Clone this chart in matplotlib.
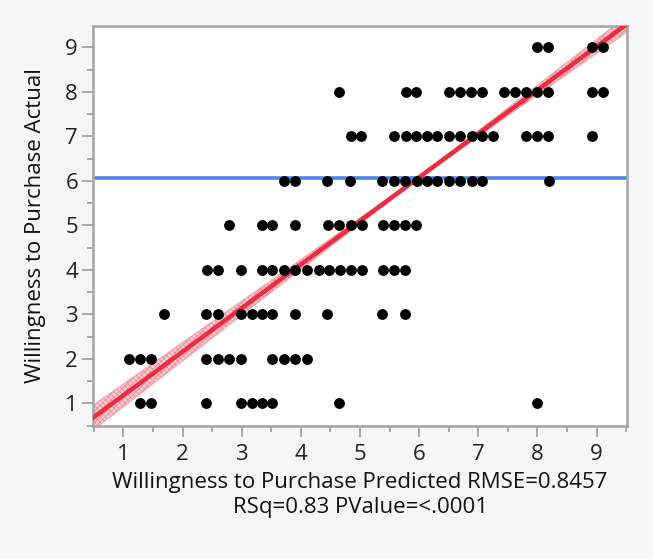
import numpy as np
import matplotlib
matplotlib.use("Agg")
import matplotlib.pyplot as plt

plt.rcParams['font.family'] = ['Open Sans', 'DejaVu Sans']
plt.rcParams['hatch.linewidth'] = 0.6

# Predicted values (x) for each actual level (y)
pred_actual_9 = [8.00, 8.18, 8.93, 9.11]
pred_actual_8 = [4.65, 5.77, 5.95, 6.51, 6.69, 6.88, 7.06, 7.43, 7.62, 7.80, 8.00, 8.18, 8.93, 9.11]
pred_actual_7 = [4.84, 5.02, 5.58, 5.77, 5.95, 6.13, 6.30, 6.51, 6.69, 6.89, 7.07, 7.25, 7.80, 8.00, 8.18, 8.93]
pred_actual_6 = [3.72, 3.90, 4.45, 4.83, 5.38, 5.58, 5.76, 5.96, 6.14, 6.30, 6.51, 6.69, 6.89, 7.07, 8.20]
pred_actual_5 = [2.79, 3.34, 3.52, 3.90, 4.46, 4.65, 4.84, 5.03, 5.39, 5.58, 5.76, 5.95]
pred_actual_4 = [2.41, 2.60, 2.98, 3.34, 3.52, 3.72, 3.90, 4.10, 4.30, 4.48, 4.66, 4.84, 5.03, 5.39, 5.58, 5.76]
pred_actual_3 = [1.68, 2.40, 2.60, 2.98, 3.17, 3.34, 3.52, 3.90, 4.45, 5.38, 5.76]
pred_actual_2 = [1.10, 1.28, 1.47, 2.40, 2.60, 2.79, 2.98, 3.52, 3.72, 3.90, 4.10]
pred_actual_1 = [1.28, 1.47, 2.40, 2.98, 3.17, 3.34, 3.52, 4.65, 8.00]

actual_levels = [9, 8, 7, 6, 5, 4, 3, 2, 1]
pred_by_level = [pred_actual_9, pred_actual_8, pred_actual_7, pred_actual_6, pred_actual_5,
                 pred_actual_4, pred_actual_3, pred_actual_2, pred_actual_1]

mean_actual = 6.07
fit_slope = 0.98
fit_intercept = 0.2
band_center_x = 6.0
band_min_halfwidth = 0.04
band_growth = 0.05

tick_values = [1, 2, 3, 4, 5, 6, 7, 8, 9]
xlabel_text = "Willingness to Purchase Predicted RMSE=0.8457\nRSq=0.83 PValue=<.0001"
ylabel_text = "Willingness to Purchase Actual"

W, H = 653, 559
fig = plt.figure(figsize=(W / 100, H / 100), dpi=100, facecolor='#f6f6f6')
ax = fig.add_axes([93.3 / W, 1 - 426 / H, (626.7 - 93.3) / W, (426 - 26) / H])
ax.set_facecolor('white')

xlim = (0.49, 9.51)
ylim = (0.49, 9.48)

# confidence band and fit line
xs = np.linspace(xlim[0] - 0.1, xlim[1] + 0.1, 300)
fit = fit_intercept + fit_slope * xs
hw = np.sqrt(band_min_halfwidth ** 2 + (band_growth * (xs - band_center_x)) ** 2)
ax.fill_between(xs, fit - hw, fit + hw, facecolor='#fbd0d4', edgecolor='#f08a95',
                hatch='xxxxxx', linewidth=0, zorder=2)
ax.plot(xs, fit - hw, color='#f2a0a8', lw=0.8, zorder=2)
ax.plot(xs, fit + hw, color='#f2a0a8', lw=0.8, zorder=2)
ax.plot(xs, fit, color='#ec2c40', lw=3.2, zorder=3, solid_capstyle='butt')

# mean line
ax.axhline(mean_actual, color='#4a86ec', lw=2.6, zorder=2)

# points
for lvl, preds in zip(actual_levels, pred_by_level):
    ax.plot(preds, [lvl] * len(preds), 'o', color='black', ms=7.8, mec='black', mew=0, zorder=4)

ax.set_xlim(*xlim)
ax.set_ylim(*ylim)
ax.set_xticks(tick_values)
ax.set_yticks(tick_values)
ax.set_xticks([v + 0.5 for v in tick_values[:-1]] + [0.5, 9.5], minor=True)
ax.set_yticks([v + 0.5 for v in tick_values[:-1]] + [0.5], minor=True)

for s in ax.spines.values():
    s.set_color('#a4a4a4')
    s.set_linewidth(1.8)

ax.tick_params(which='major', length=8, width=1.3, color='#a4a4a4', labelsize=16,
               labelcolor='#222222')
ax.tick_params(axis='x', which='major', pad=5)
ax.tick_params(axis='y', which='major', pad=3)
ax.tick_params(which='minor', length=4, width=1.3, color='#a4a4a4')

ax.set_xlabel(xlabel_text, fontsize=16, color='#111111', linespacing=1.25)
ax.xaxis.set_label_coords(0.5, -0.115)
ax.set_ylabel(ylabel_text, fontsize=16, color='#111111')
ax.yaxis.set_label_coords(-0.088, 0.5)

fig.savefig('out.png', dpi=100, facecolor=fig.get_facecolor())
